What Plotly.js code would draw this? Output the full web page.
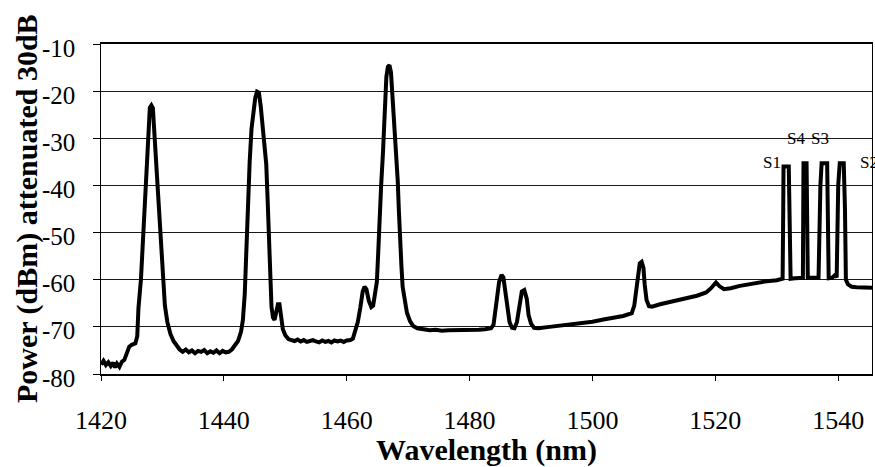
<!DOCTYPE html>
<html>
<head>
<meta charset="utf-8">
<script src="https://cdn.plot.ly/plotly-3.0.1.min.js"></script>
<style>
  html, body { margin: 0; padding: 0; background: #fff; }
  #chart { width: 875px; height: 467px; }
</style>
</head>
<body>
<div id="chart"></div>
<script>
// Wavelength (nm)
const wavelength = [
  1420.0, 1420.4, 1420.8, 1421.2, 1421.6, 1422.0, 1422.3, 1422.6, 1423.0, 1423.4,
  1423.8, 1424.2, 1424.6, 1425.0, 1425.6, 1425.9, 1426.1, 1426.5, 1426.9, 1427.2,
  1427.5, 1427.8, 1427.95, 1428.2, 1428.45, 1428.6, 1428.8, 1429.1, 1429.4, 1429.7,
  1429.9, 1430.1, 1430.4, 1430.8, 1431.3, 1431.8, 1432.3, 1432.8,
  1433.3, 1433.8, 1434.3, 1434.8, 1435.3, 1435.8, 1436.3, 1436.8, 1437.3, 1437.8,
  1438.3, 1438.8, 1439.3, 1439.8, 1440.3, 1440.8, 1441.3, 1441.8, 1442.3, 1442.8,
  1443.1, 1443.4, 1443.6, 1443.9, 1444.2, 1444.5, 1444.8, 1445.1, 1445.4, 1445.7,
  1446.0, 1446.3, 1446.6, 1446.9, 1447.15, 1447.4, 1447.6, 1447.75, 1448.0, 1448.25,
  1448.5, 1448.8, 1449.05, 1449.3, 1449.6, 1450.0, 1450.5, 1451.0,
  1451.5, 1452.0, 1452.5, 1453.0, 1453.5, 1454.0, 1454.5, 1455.0, 1455.5, 1456.0,
  1456.5, 1457.0, 1457.5, 1458.0, 1458.5, 1459.0, 1459.5, 1460.0, 1460.6, 1461.0,
  1461.4, 1461.8, 1462.2, 1462.6, 1462.9, 1463.2, 1463.6, 1464.0, 1464.3, 1464.6,
  1464.9, 1465.1, 1465.3, 1465.6, 1465.9, 1466.2, 1466.45, 1466.7, 1466.95, 1467.2,
  1467.4, 1467.7, 1468.0, 1468.3, 1468.5, 1468.7, 1468.9, 1469.1, 1469.4, 1469.8,
  1470.3, 1470.8, 1471.5, 1472.5,
  1473.5, 1474.5, 1475.5, 1476.5, 1477.5, 1478.5, 1479.5, 1480.5, 1481.5, 1482.5,
  1483.5, 1483.9, 1484.2, 1484.5, 1484.8, 1485.2, 1485.5, 1485.8, 1486.1, 1486.5,
  1486.9, 1487.3, 1487.7, 1488.1, 1488.5, 1488.9, 1489.3, 1489.6, 1490.0, 1490.5,
  1491.2, 1493.0, 1495.0, 1497.5, 1500.0, 1502.0, 1503.5, 1505.0, 1506.4, 1506.8,
  1507.1, 1507.4, 1507.7, 1508.0, 1508.3, 1508.5, 1508.8, 1509.2, 1509.7, 1511.0,
  1513.0, 1515.0, 1517.0, 1518.5, 1519.3, 1520.1, 1520.7, 1521.4, 1522.5, 1524.0,
  1526.0, 1528.0, 1530.0, 1530.7,
  1530.95, 1531.05, 1531.1, 1531.95, 1532.1, 1532.25, 1533.0,
  1534.25, 1534.35, 1534.6, 1534.85, 1535.05, 1536.0,
  1536.8, 1537.1, 1537.3, 1538.2, 1538.45, 1539.0, 1539.5, 1539.75,
  1540.0, 1540.25, 1540.9, 1541.1, 1541.25, 1541.6, 1542.2, 1543.0, 1544.0, 1545.5
];

// Power (dBm), attenuated 30 dB
const power = [
  -78.0, -77.2, -78.1, -77.5, -78.3, -77.6, -78.6, -77.8, -78.5, -77.4,
  -77.0, -75.5, -74.2, -73.8, -73.5, -72.0, -66.0, -60.0, -50.0, -42.0,
  -33.0, -27.0, -23.5, -23.0, -23.6, -27.0, -31.5, -38.0, -44.0, -51.0,
  -56.0, -61.0, -65.5, -69.0, -71.5, -73.0, -74.0, -74.8,
  -75.3, -74.8, -75.4, -75.0, -75.6, -75.1, -75.3, -74.9, -75.6, -75.2,
  -75.5, -75.0, -75.6, -75.1, -75.4, -75.3, -74.8, -74.0, -73.0, -71.0,
  -68.5, -63.0, -55.0, -45.0, -35.0, -28.0, -24.0, -21.5, -20.1, -20.3,
  -23.2, -27.5, -31.0, -35.5, -44.0, -53.0, -62.0, -65.7, -68.0, -68.5,
  -67.0, -65.2, -65.2, -68.0, -70.5, -71.8, -72.6, -72.8,
  -73.0, -72.7, -73.1, -72.8, -73.2, -73.0, -72.8, -73.1, -73.3, -72.9,
  -73.2, -73.0, -73.3, -72.9, -73.1, -72.9, -73.2, -72.9, -72.8, -72.5,
  -71.0, -69.0, -66.0, -62.5, -61.5, -62.0, -64.5, -65.8, -65.5, -63.5,
  -60.5, -55.0, -48.0, -40.0, -33.0, -24.0, -17.0, -14.8, -14.5, -16.0,
  -19.7, -25.0, -32.0, -39.0, -45.8, -53.0, -57.0, -61.5, -64.5, -67.0,
  -68.8, -69.8, -70.3, -70.6,
  -70.7, -70.6, -70.8, -70.7, -70.7, -70.6, -70.8, -70.7, -70.6, -70.5,
  -70.3, -69.5, -67.0, -63.5, -60.5, -59.0, -59.5, -62.5, -66.4, -69.0,
  -70.2, -70.3, -69.0, -65.5, -62.5, -62.2, -64.0, -67.5, -69.3, -70.2,
  -70.3, -70.0, -69.7, -69.3, -68.9, -68.4, -68.1, -67.7, -67.1, -65.5,
  -62.5, -58.5, -56.5, -56.2, -57.5, -61.0, -64.3, -65.6, -65.7, -65.2,
  -64.6, -64.0, -63.4, -62.7, -61.8, -60.6, -61.4, -62.0, -61.8, -61.3,
  -60.8, -60.4, -60.1, -60.0,
  -59.8, -45.0, -36.0, -36.0, -45.0, -59.8, -59.7,
  -59.6, -35.3, -35.2, -35.3, -59.6, -59.6,
  -59.6, -40.0, -35.3, -35.3, -59.7, -59.6, -59.0, -59.5,
  -40.0, -35.3, -35.3, -45.0, -60.0, -61.0, -61.5, -61.6, -61.7, -61.7
];

// Signal channel labels
const signalLabels = ['S1', 'S4', 'S3', 'S2'];
const signalLabelX = [1529.3, 1533.2, 1537.1, 1543.3];
const signalLabelY = [-35.1, -30.1, -30.1, -35.1];
const signalLabelAnchor = ['center', 'center', 'center', 'left'];

const xTickVals = [1420, 1440, 1460, 1480, 1500, 1520, 1540];
const yTickVals = [-80, -70, -60, -50, -40, -30, -20, -10];
const yTickText = ['-80', '-70', '-60', '-50', '-40', '-30', '-20', '-10'];

const xTitle = 'Wavelength (nm)';
const yTitle = 'Power (dBm) attenuated 30dB';

const FONT = 'Liberation Serif';

const trace = {
  x: wavelength,
  y: power,
  type: 'scatter',
  mode: 'lines',
  line: { color: '#000000', width: 4 },
  hoverinfo: 'x+y',
  showlegend: false
};

const annotations = signalLabels.map((t, i) => ({
  text: t,
  x: signalLabelX[i],
  y: signalLabelY[i],
  xref: 'x',
  yref: 'y',
  xanchor: signalLabelAnchor[i],
  yanchor: 'middle',
  showarrow: false,
  font: { family: FONT, size: 17, color: '#000' }
}));

// y tick labels, set on the y scale, slightly below each gridline as in the source
yTickVals.forEach((v, i) => {
  annotations.push({
    text: yTickText[i],
    xref: 'paper',
    yref: 'y',
    x: -24 / 771,
    y: v,
    xanchor: 'right',
    yanchor: 'middle',
    yshift: -4,
    showarrow: false,
    font: { family: FONT, size: 25, color: '#000' }
  });
});

// y-axis title, placed in the left margin
annotations.push({
  text: '<b>' + yTitle + '</b>',
  xref: 'paper',
  yref: 'paper',
  x: -74 / 771,
  y: 0.5,
  xanchor: 'center',
  yanchor: 'middle',
  textangle: -90,
  showarrow: false,
  font: { family: FONT, size: 30, color: '#000' }
});

const layout = {
  width: 875,
  height: 467,
  margin: { l: 101, r: 3, t: 44, b: 93 },
  paper_bgcolor: '#ffffff',
  plot_bgcolor: '#ffffff',
  showlegend: false,
  font: { family: FONT, color: '#000' },
  xaxis: {
    range: [1420, 1545.5],
    tickmode: 'array',
    tickvals: xTickVals,
    ticktext: xTickVals.map(String),
    ticks: 'outside',
    ticklen: 5,
    tickwidth: 1,
    tickcolor: '#000',
    ticklabelstandoff: 17,
    showline: true,
    linecolor: '#000',
    linewidth: 2,
    mirror: true,
    showgrid: false,
    zeroline: false,
    tickfont: { family: FONT, size: 26, color: '#000' },
    title: {
      text: '<b>' + xTitle + '</b>',
      font: { family: FONT, size: 30, color: '#000' },
      standoff: 3
    }
  },
  yaxis: {
    range: [-80, -10],
    tickmode: 'array',
    tickvals: yTickVals,
    showticklabels: false,
    ticks: 'outside',
    ticklen: 7,
    tickwidth: 1,
    tickcolor: '#000',
    showline: true,
    linecolor: '#000',
    linewidth: 1,
    mirror: true,
    showgrid: true,
    gridcolor: '#1a1a1a',
    gridwidth: 1,
    zeroline: false
  },
  annotations: annotations
};

Plotly.newPlot('chart', [trace], layout, { staticPlot: true, displayModeBar: false });
</script>
</body>
</html>
